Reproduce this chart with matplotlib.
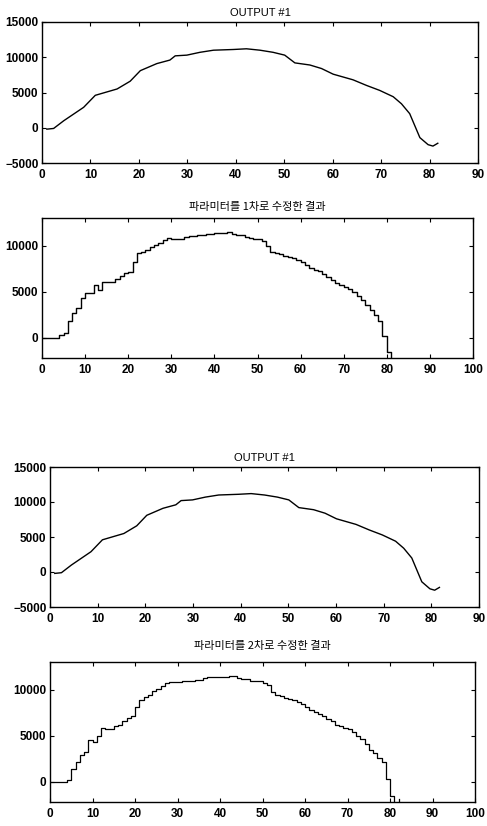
import numpy as np
import matplotlib
matplotlib.use("Agg")
import matplotlib.pyplot as plt

plt.rcParams['font.family'] = ['Liberation Sans', 'Noto Sans CJK KR', 'DejaVu Sans']

# ---- data -------------------------------------------------------------
# OUTPUT #1 (continuous line), breakpoints
out_x = [1.0, 2.4, 4.5, 8.6, 11.0, 15.5, 18.2, 20.3, 23.7, 26.4, 27.5, 29.9,
         32.6, 35.4, 39.5, 42.2, 45.0, 47.7, 50.1, 52.2, 55.3, 57.7, 60.1,
         64.2, 67.0, 69.7, 72.5, 74.2, 75.9, 78.0, 79.7, 80.7, 81.7]
out_y = [-200, -100, 1000, 2900, 4600, 5500, 6600, 8100, 9100, 9600, 10200,
         10300, 10700, 11000, 11100, 11200, 11000, 10700, 10300, 9200, 8900,
         8400, 7600, 6800, 6000, 5300, 4400, 3400, 2000, -1400, -2400, -2600,
         -2200]

# parameter corrected once (staircase), one value per sample 0..82
step1 = [0, 0, 0, 0, 300, 500, 1800, 2700, 3200, 4300, 4900, 4900, 5700,
         5200, 6000, 6000, 6100, 6400, 6700, 7000, 7100, 8200, 9250, 9300,
         9550, 9900, 10100, 10250, 10600, 10800, 10700, 10700, 10750, 10900,
         11000, 11100, 11150, 11200, 11250, 11300, 11320, 11350, 11400, 11430,
         11250, 11200, 11140, 10900, 10820, 10750, 10700, 10460, 10000, 9360,
         9200, 9040, 8860, 8750, 8640, 8390, 8210, 7860, 7610, 7390, 7250,
         6890, 6610, 6320, 5960, 5710, 5540, 5290, 5000, 4540, 4110, 3570,
         3040, 2500, 1800, 150, -1500, -2300, -2600]

# parameter corrected twice (staircase)
step2 = [0, 0, 0, 0, 200, 1350, 2150, 2900, 3250, 4500, 4300, 4950, 5850,
         5700, 5750, 6000, 6200, 6600, 6950, 7100, 8100, 8900, 9200, 9450,
         9900, 10050, 10350, 10700, 10800, 10800, 10800, 10950, 10950, 10950,
         11050, 11050, 11250, 11350, 11350, 11350, 11350, 11350, 11450, 11450,
         11250, 11150, 11150, 10950, 10900, 10900, 10700, 10450, 9700, 9450,
         9300, 9100, 9000, 8850, 8650, 8400, 8150, 7800, 7550, 7400, 7100,
         6850, 6600, 6200, 6000, 5850, 5700, 5350, 5000, 4600, 4050, 3500,
         3100, 2600, 2150, 300, -1500, -2600, -1900]

title_out = "OUTPUT #1"
title_1 = "파라미터를 1차로 수정한 결과"
title_2 = "파라미터를 2차로 수정한 결과"

xt90 = list(range(0, 91, 10))
xt100 = list(range(0, 101, 10))
yt_out = [-5000, 0, 5000, 10000, 15000]
yt_step = [0, 5000, 10000]

# ---- figure -----------------------------------------------------------
W, H = 487, 826
fig = plt.figure(figsize=(W / 100, H / 100), dpi=100)
fig.patch.set_facecolor('white')


def box(l, t, r, b):
    return [l / W, 1 - b / H, (r - l) / W, (b - t) / H]


def style(ax, xt, yt, xlim, ylim):
    ax.set_xlim(*xlim)
    ax.set_ylim(*ylim)
    ax.set_xticks(xt)
    ax.set_yticks(yt)
    ax.tick_params(direction='in', top=True, right=True, length=3,
                   width=0.8, labelsize=8.5, pad=2.5)
    ax.tick_params(axis='x', pad=4)
    for lab in ax.get_xticklabels() + ax.get_yticklabels():
        lab.set_fontweight('bold')
    for s in ax.spines.values():
        s.set_linewidth(1.0)


ax1 = fig.add_axes(box(42, 22, 478, 163))
ax1.plot(out_x, out_y, color='black', lw=1.0)
style(ax1, xt90, yt_out, (0, 90), (-5000, 15000))
ax1.set_title(title_out, fontsize=8, pad=4)

ax2 = fig.add_axes(box(42, 218, 473, 358))
ax2.plot(np.arange(len(step1)), step1, drawstyle='steps-post',
         color='black', lw=1.0)
style(ax2, xt100, yt_step, (0, 100), (-2200, 13000))
ax2.set_title(title_1, fontsize=8, pad=6,
              family=['Noto Sans CJK KR', 'DejaVu Sans'])

ax3 = fig.add_axes(box(50, 467, 479, 607))
ax3.plot(out_x, out_y, color='black', lw=1.0)
style(ax3, xt90, yt_out, (0, 90), (-5000, 15000))
ax3.set_title(title_out, fontsize=8, pad=4)

ax4 = fig.add_axes(box(50, 662, 475, 802))
ax4.plot(np.arange(len(step2)), step2, drawstyle='steps-post',
         color='black', lw=0.9)
style(ax4, xt100, yt_step, (0, 100), (-2200, 13000))
ax4.set_title(title_2, fontsize=8, pad=9,
              family=['Noto Sans CJK KR', 'DejaVu Sans'])

fig.savefig('out.png', dpi=100, facecolor='white')
